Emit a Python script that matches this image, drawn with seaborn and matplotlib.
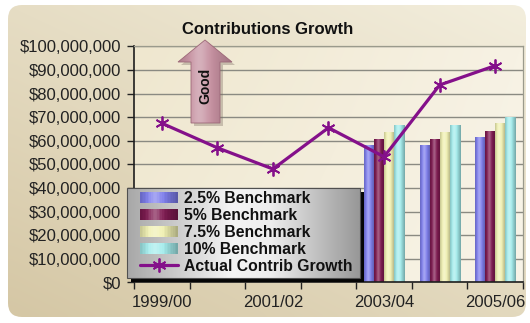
import numpy as np
import pandas as pd
import matplotlib
matplotlib.use("Agg")
import matplotlib.pyplot as plt
import seaborn as sns
from matplotlib.patches import Rectangle, FancyBboxPatch, Polygon
from matplotlib.lines import Line2D
from matplotlib.legend_handler import HandlerBase
from matplotlib.colors import to_rgb
from matplotlib.ticker import FuncFormatter

# ---- data -------------------------------------------------------------
years = ["1999/00", "2000/01", "2001/02", "2002/03", "2003/04", "2004/05", "2005/06"]
actual_growth = [67_400_000, 57_000_000, 48_000_000, 65_500_000,
                 53_200_000, 83_600_000, 91_800_000]

bench_years = ["2003/04", "2004/05", "2005/06"]
bench_2_5 = [58_200_000, 58_200_000, 61_400_000]
bench_5 = [60_700_000, 60_700_000, 64_100_000]
bench_7_5 = [63_800_000, 63_800_000, 67_400_000]
bench_10 = [66_700_000, 66_700_000, 70_200_000]

bench_names = ["2.5% Benchmark", "5% Benchmark", "7.5% Benchmark", "10% Benchmark"]
line_name = "Actual Contrib Growth"
chart_title = "Contributions Growth"
arrow_text = "Good"
y_ticks = list(range(0, 100_000_001, 10_000_000))
x_label_years = ["1999/00", "2001/02", "2003/04", "2005/06"]

# ---- styles -----------------------------------------------------------
bench_colors = ["#7e7eec", "#7e1a50", "#f0f0b2", "#a4ecec"]
line_color = "#84108a"
W, H = 530, 323

sns.set_theme(style="white")
plt.rcParams["font.family"] = ["Liberation Sans", "DejaVu Sans"]


def shade(color, t, hi_amp=0.3, lo_amp=0.3):
    """Cylinder-like shading across a bar: soft highlight, darker edges."""
    c = np.array(to_rgb(color))
    hi = hi_amp * np.exp(-((t - 0.4) / 0.16) ** 2)
    lo = lo_amp * np.clip((np.abs(t - 0.42) - 0.18) / 0.4, 0, 1)
    col = c + (1 - c) * hi[:, None]
    col = col * (1 - lo[:, None])
    return np.clip(col, 0, 1)


class GradientHandler(HandlerBase):
    def __init__(self, color, n=24):
        super().__init__()
        self.color = color
        self.n = n

    def create_artists(self, legend, orig_handle, xdescent, ydescent,
                       width, height, fontsize, trans):
        t = (np.arange(self.n) + 0.5) / self.n
        cols = shade(self.color, t, hi_amp=0.3, lo_amp=0.3)
        arts = []
        for i, c in enumerate(cols):
            arts.append(Rectangle((-xdescent + width * i / self.n, -ydescent),
                                  width / self.n * 1.05, height,
                                  facecolor=c, edgecolor="none", transform=trans))
        return arts


def corner_gradient(tl, tr, bl, br, n=64):
    tl, tr, bl, br = (np.array(to_rgb(c)) for c in (tl, tr, bl, br))
    u = np.linspace(0, 1, n)[None, :, None]
    v = np.linspace(0, 1, n)[:, None, None]
    top = tl * (1 - u) + tr * u
    bot = bl * (1 - u) + br * u
    return top * (1 - v) + bot * v


fig = plt.figure(figsize=(W / 100, H / 100), dpi=100)
fig.patch.set_facecolor("white")

# ---- rounded beige panel ------------------------------------------------
bg = fig.add_axes([0, 0, 1, 1], zorder=-2)
bg.set_xlim(0, W)
bg.set_ylim(H, 0)
bg.axis("off")
panel = FancyBboxPatch((8, 5), 518, 312, boxstyle="round,pad=0,rounding_size=14",
                       facecolor="none", edgecolor="none", transform=bg.transData)
bg.add_patch(panel)
im = bg.imshow(corner_gradient("#e6ddc4", "#f3eedd", "#d5c7a5", "#e3d9be"),
               extent=(8, 526, 317, 5), aspect="auto", interpolation="bicubic")
im.set_clip_path(panel)
bg.set_xlim(0, W)
bg.set_ylim(H, 0)

# ---- main plot area -----------------------------------------------------
ax = fig.add_axes([134 / W, 1 - 282.3 / H, 389 / W, 236 / H], zorder=0)
ax.imshow(corner_gradient("#efe7cf", "#f7f2e4", "#f2ebd5", "#f8f4e8"),
          extent=(0, 1, 0, 1), transform=ax.transAxes, aspect="auto",
          interpolation="bicubic", zorder=0)

bench_df = pd.DataFrame({
    "year": bench_years * 4,
    "value": bench_2_5 + bench_5 + bench_7_5 + bench_10,
    "benchmark": [n for n in bench_names for _ in bench_years],
})

sns.barplot(data=bench_df, x="year", y="value", hue="benchmark",
            order=years, hue_order=bench_names, palette=bench_colors,
            width=0.72, saturation=1, edgecolor="#808078", linewidth=0.4,
            legend=False, ax=ax, zorder=2)

bars = [p for p in ax.patches if isinstance(p, Rectangle) and p.get_height() > 0]
for bar in bars:
    x0, y0 = bar.get_x(), bar.get_y()
    w, h = bar.get_width(), bar.get_height()
    grad = shade(bar.get_facecolor()[:3], (np.arange(32) + 0.5) / 32)[None, :, :]
    gi = ax.imshow(grad, extent=(x0, x0 + w, y0, y0 + h), aspect="auto",
                   interpolation="bilinear", zorder=2.1)
    gi.set_clip_path(bar)

sns.pointplot(x=years, y=actual_growth, order=years, color=line_color,
              marker=(6, 2, 0), markersize=10, markeredgewidth=1.3,
              markeredgecolor=line_color, linewidth=2.3, errorbar=None,
              ax=ax, zorder=4)

ax.set_xlim(-0.5, len(years) - 0.5)
ax.set_ylim(0, 100_000_000)
ax.set_aspect("auto")
ax.set_xlabel("")
ax.set_ylabel("")

ax.set_yticks(y_ticks)
ax.yaxis.set_major_formatter(FuncFormatter(lambda v, p: f"${v:,.0f}"))
ax.tick_params(axis="y", which="major", length=5, width=1, pad=4,
               labelsize=12, labelcolor="#222222", color="#222222", left=True)

ax.set_xticks(np.arange(-0.5, len(years), 1.0))
ax.set_xticklabels([])
ax.set_xticks([years.index(y) for y in x_label_years], labels=x_label_years, minor=True)
ax.tick_params(axis="x", which="major", length=5, width=1, color="#222222", bottom=True)
ax.tick_params(axis="x", which="minor", length=0, pad=9, labelsize=12,
               labelcolor="#222222")

ax.yaxis.grid(True, color="#8a8a82", lw=1.0)
ax.xaxis.grid(False)
ax.set_axisbelow(True)
for side in ("left", "bottom"):
    ax.spines[side].set_color("#1e1e1e")
    ax.spines[side].set_linewidth(1.2)
for side in ("top", "right"):
    ax.spines[side].set_color("#9a9a8c")
    ax.spines[side].set_linewidth(0.9)

# ---- overlay: title, arrow, legend ---------------------------------------
ov = fig.add_axes([0, 0, 1, 1], zorder=3)
ov.set_xlim(0, W)
ov.set_ylim(H, 0)
ov.axis("off")
ov.patch.set_alpha(0)

ov.text(268, 29, chart_title, ha="center", va="center",
        fontsize=12, fontweight="bold", color="#111111")

arrow_pts = [(205, 40), (232, 62), (220, 62), (220, 123),
             (191, 123), (191, 62), (178, 62)]
shadow = Polygon([(x + 3, y + 3) for x, y in arrow_pts], closed=True,
                 facecolor="#7a6a60", alpha=0.35, edgecolor="none", zorder=3)
ov.add_patch(shadow)
arrow = Polygon(arrow_pts, closed=True, facecolor="none",
                edgecolor="#9c6878", lw=0.6, zorder=3.2)
ov.add_patch(arrow)
ag = ov.imshow(shade("#c48e9e", (np.arange(32) + 0.5) / 32, hi_amp=0.3, lo_amp=0.18)[None],
               extent=(178, 232, 123, 40), aspect="auto",
               interpolation="bilinear", zorder=3.1)
ag.set_clip_path(arrow)
ov.text(205.5, 86, arrow_text, rotation=90, ha="center", va="center",
        fontsize=10, fontweight="bold", color="#111111", zorder=3.5)

# legend box with drop shadow and metallic fill
lx0, ly0, lx1, ly1 = 127, 188, 360, 278
ov.add_patch(Rectangle((lx0 + 4, ly0 + 4), lx1 - lx0, ly1 - ly0,
                       facecolor="#050505", edgecolor="none", zorder=4))
box = Rectangle((lx0, ly0), lx1 - lx0, ly1 - ly0, facecolor="none",
                edgecolor="#505050", lw=0.8, zorder=4.6)
ov.add_patch(box)
u = np.linspace(0, 1, 64)
prof = np.interp(u, [0, 0.45, 0.62, 1], [0.66, 0.96, 0.93, 0.6])
lgrad = np.repeat(prof[None, :, None], 3, axis=2)
li = ov.imshow(lgrad, extent=(lx0, lx1, ly1, ly0), aspect="auto",
               interpolation="bilinear", zorder=4.5)
li.set_clip_path(box)

proxies = [Rectangle((0, 0), 1, 1, facecolor=c) for c in bench_colors]
line_proxy = Line2D([], [], color=line_color, lw=2.3, marker=(6, 2, 0),
                    markersize=10, markeredgewidth=1.3)
handler_map = {p: GradientHandler(c) for p, c in zip(proxies, bench_colors)}
leg = ov.legend(handles=proxies + [line_proxy], labels=bench_names + [line_name],
                loc="upper left", bbox_to_anchor=(140, 191),
                bbox_transform=ov.transData, frameon=False, borderpad=0,
                borderaxespad=0, labelspacing=0.12, handlelength=2.4,
                handleheight=0.68, handletextpad=0.4,
                prop={"weight": "bold", "size": 11.3}, handler_map=handler_map)
for t in leg.get_texts():
    t.set_color("#111111")
leg.set_zorder(6)

ov.set_xlim(0, W)
ov.set_ylim(H, 0)

fig.savefig("out.png", dpi=100)
